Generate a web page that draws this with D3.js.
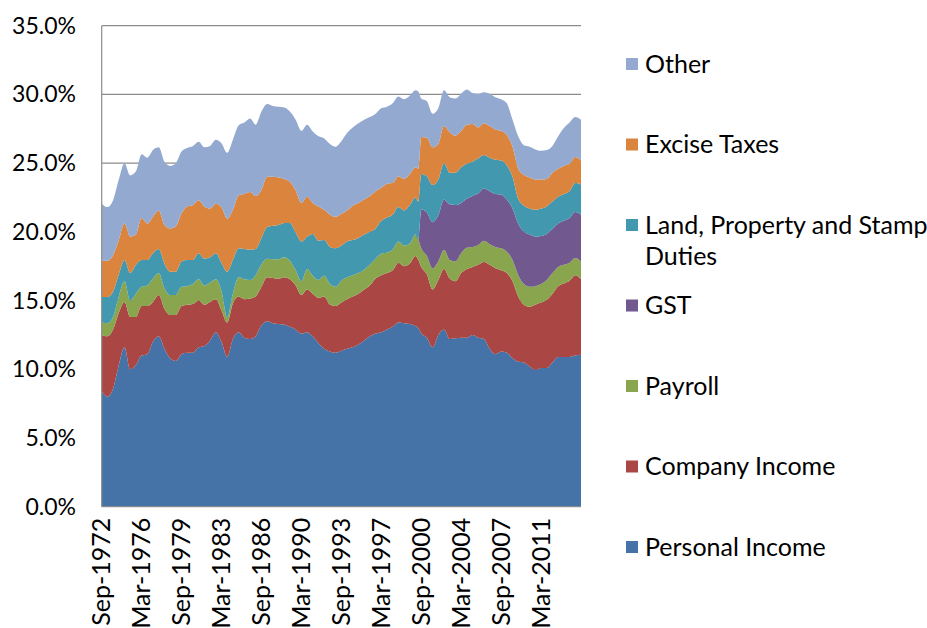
<!DOCTYPE html>
<html>
<head>
<meta charset="utf-8">
<script src="https://cdn.jsdelivr.net/npm/d3@7"></script>
<style>
  body { margin: 0; background: #fff; }
  svg text { font-family: Lato, "Open Sans", sans-serif; fill: #000; }
</style>
</head>
<body>
<script>
// Tax revenue by type, % of GDP, half-yearly points (plus Jun-2000 for the GST start)

const quarters = [
  "Sep-1972", "Mar-1973", "Sep-1973", "Mar-1974", "Sep-1974", "Mar-1975", "Sep-1975", "Mar-1976", "Sep-1976", "Mar-1977",
  "Sep-1977", "Mar-1978", "Sep-1978", "Mar-1979", "Sep-1979", "Mar-1980", "Sep-1980", "Mar-1981", "Sep-1981", "Mar-1982",
  "Sep-1982", "Mar-1983", "Sep-1983", "Mar-1984", "Sep-1984", "Mar-1985", "Sep-1985", "Mar-1986", "Sep-1986", "Mar-1987",
  "Sep-1987", "Mar-1988", "Sep-1988", "Mar-1989", "Sep-1989", "Mar-1990", "Sep-1990", "Mar-1991", "Sep-1991", "Mar-1992",
  "Sep-1992", "Mar-1993", "Sep-1993", "Mar-1994", "Sep-1994", "Mar-1995", "Sep-1995", "Mar-1996", "Sep-1996", "Mar-1997",
  "Sep-1997", "Mar-1998", "Sep-1998", "Mar-1999", "Sep-1999", "Mar-2000",
  "Jun-2000",
  "Sep-2000", "Mar-2001", "Sep-2001", "Mar-2002", "Sep-2002", "Mar-2003", "Sep-2003", "Mar-2004", "Sep-2004", "Mar-2005",
  "Sep-2005", "Mar-2006", "Sep-2006", "Mar-2007", "Sep-2007", "Mar-2008", "Sep-2008", "Mar-2009", "Sep-2009", "Mar-2010",
  "Sep-2010", "Mar-2011", "Sep-2011", "Mar-2012", "Sep-2012", "Mar-2013", "Sep-2013", "Mar-2014", "Sep-2014"
];

const personalIncome = [
  8.4, 8.0, 8.6, 10.3, 11.6, 10.0, 10.3, 11.0, 11.1, 12.0,
  12.4, 11.5, 10.8, 10.6, 11.1, 11.2, 11.2, 11.6, 11.7, 12.1,
  12.7, 12.0, 10.9, 12.2, 12.7, 12.3, 12.2, 12.4, 13.2, 13.5,
  13.35, 13.3, 13.25, 13.1, 12.9, 12.6, 12.7, 12.4, 11.9, 11.5,
  11.3, 11.2, 11.35, 11.5, 11.6, 11.8, 12.1, 12.4, 12.6, 12.7,
  12.9, 13.1, 13.4, 13.35, 13.3, 13.15,
  13.0,
  12.6, 12.3, 11.6, 12.5, 12.9, 12.2, 12.25, 12.3, 12.3, 12.5,
  12.3, 12.2, 11.5, 11.1, 11.3, 11.2, 10.8, 10.55, 10.5, 10.2,
  9.95, 10.1, 10.1, 10.5, 10.9, 10.9, 10.9, 11.0, 11.05
];

const companyIncome = [
  4.1, 4.4, 4.3, 3.8, 3.3, 3.8, 3.5, 3.6, 3.5, 2.9,
  3.0, 2.9, 3.15, 3.35, 3.5, 3.5, 3.55, 3.4, 3.0, 2.8,
  2.4, 2.3, 2.5, 2.6, 2.6, 2.8, 2.95, 2.9, 2.8, 3.2,
  3.3, 3.3, 3.45, 3.45, 3.2, 2.8, 3.1, 3.1, 3.3, 3.8,
  3.4, 3.4, 3.5, 3.6, 3.7, 3.7, 3.7, 3.7, 4.0, 4.15,
  4.1, 4.1, 4.35, 4.15, 4.4, 5.1,
  4.95,
  4.85, 4.6, 4.2, 4.0, 4.4, 4.4, 4.15, 4.7, 5.0, 4.95,
  5.3, 5.6, 6.1, 6.25, 5.9, 5.8, 5.6, 4.75, 4.2, 4.35,
  4.75, 4.75, 4.95, 5.0, 5.15, 5.35, 5.55, 5.85, 5.5
];

const payroll = [
  0.9, 0.95, 0.9, 1.2, 1.5, 1.2, 1.7, 1.4, 1.5, 1.7,
  1.6, 1.5, 1.45, 1.45, 1.4, 1.35, 1.45, 1.55, 1.4, 1.4,
  1.45, 1.4, 0.4, 0.7, 1.4, 1.45, 1.35, 1.55, 1.65, 1.35,
  1.35, 1.4, 1.45, 1.35, 1.1, 1.0, 1.5, 1.3, 1.3, 1.5,
  1.5, 1.4, 1.6, 1.6, 1.55, 1.5, 1.45, 1.5, 1.45, 1.55,
  1.5, 1.5, 1.55, 1.5, 1.45, 1.55,
  1.5,
  1.35, 1.35, 1.55, 1.35, 1.4, 1.35, 1.45, 1.45, 1.55, 1.45,
  1.45, 1.55, 1.5, 1.55, 1.6, 1.55, 1.55, 1.55, 1.5, 1.45,
  1.35, 1.35, 1.45, 1.5, 1.4, 1.35, 1.3, 1.25, 1.3
];

const gst = [
  0, 0, 0, 0, 0, 0, 0, 0, 0, 0,
  0, 0, 0, 0, 0, 0, 0, 0, 0, 0,
  0, 0, 0, 0, 0, 0, 0, 0, 0, 0,
  0, 0, 0, 0, 0, 0, 0, 0, 0, 0,
  0, 0, 0, 0, 0, 0, 0, 0, 0, 0,
  0, 0, 0, 0, 0, 0,
  0,
  2.85, 3.15, 3.35, 3.35, 3.65, 4.05, 4.1, 3.65, 3.55, 3.7,
  3.75, 3.8, 3.85, 3.85, 3.9, 3.8, 3.75, 3.75, 3.8, 3.8,
  3.6, 3.5, 3.35, 3.2, 3.15, 3.2, 3.25, 3.35, 3.4
];

const landPropertyStamp = [
  1.85, 1.9, 1.85, 1.6, 1.55, 2.0, 2.1, 1.95, 1.85, 1.85,
  1.75, 1.8, 1.7, 1.7, 1.85, 1.9, 1.75, 1.9, 1.95, 1.85,
  1.9, 2.05, 3.3, 2.45, 2.1, 2.2, 2.2, 1.9, 1.9, 2.3,
  2.45, 2.5, 2.5, 2.75, 2.75, 2.9, 2.35, 3.05, 2.85, 2.6,
  2.7, 2.8, 2.55, 2.6, 2.55, 2.55, 2.55, 2.4, 2.2, 2.4,
  2.55, 2.55, 2.5, 2.55, 2.8, 2.7,
  2.75,
  2.55, 2.65, 2.7, 2.6, 2.65, 2.3, 2.35, 2.6, 2.55, 2.5,
  2.55, 2.45, 2.45, 2.5, 2.5, 2.5, 2.3, 1.8, 1.9, 1.9,
  1.95, 2.0, 2.0, 2.0, 1.95, 1.95, 1.95, 2.1, 2.2
];

const exciseTaxes = [
  2.65, 2.65, 2.65, 2.5, 2.65, 2.65, 2.2, 3.05, 2.65, 2.65,
  2.8, 2.8, 3.15, 3.3, 3.5, 3.9, 4.0, 3.85, 3.8, 3.55,
  3.6, 4.05, 3.85, 3.65, 3.85, 4.0, 4.2, 3.85, 3.5, 3.65,
  3.55, 3.45, 3.2, 3.0, 3.05, 2.8, 2.9, 2.25, 2.5, 2.2,
  2.35, 2.3, 2.3, 2.25, 2.5, 2.55, 2.55, 2.6, 2.7, 2.4,
  2.45, 2.3, 2.25, 2.3, 2.25, 2.2,
  2.4,
  2.7, 2.8, 2.75, 2.6, 2.7, 2.95, 2.7, 2.65, 2.85, 2.75,
  2.25, 2.3, 2.3, 2.2, 2.15, 2.2, 2.2, 2.2, 2.25, 2.25,
  2.2, 2.1, 2.0, 2.1, 2.05, 2.05, 2.0, 1.9, 1.75
];

const other = [
  4.15, 3.9, 4.0, 4.4, 4.4, 4.45, 4.6, 4.65, 4.8, 4.85,
  4.6, 4.6, 4.55, 4.6, 4.5, 4.25, 4.3, 4.25, 4.3, 4.55,
  4.65, 4.65, 4.8, 5.1, 5.1, 5.2, 5.35, 5.2, 5.7, 5.3,
  5.15, 5.15, 5.2, 5.1, 5.15, 5.25, 5.25, 5.2, 5.1, 5.2,
  5.15, 5.1, 5.3, 5.65, 5.7, 5.8, 5.8, 5.75, 5.65, 5.8,
  5.6, 5.8, 5.8, 5.8, 5.7, 5.6,
  5.6,
  2.8, 2.65, 2.45, 2.6, 2.6, 2.55, 2.7, 2.7, 2.55, 2.25,
  2.45, 2.25, 2.35, 2.35, 2.3, 2.3, 1.95, 2.35, 2.15, 2.25,
  2.2, 2.1, 2.1, 1.95, 2.35, 2.75, 3.0, 2.9, 2.95
];

// stacking order bottom-up; legend lists them top-down
const seriesNames = ["Personal Income", "Company Income", "Payroll", "GST",
  "Land, Property and Stamp Duties", "Excise Taxes", "Other"];
const seriesValues = [personalIncome, companyIncome, payroll, gst,
  landPropertyStamp, exciseTaxes, other];
const colors = ["#4572A7", "#AA4643", "#89A54E", "#71588F", "#4198AF", "#DB843D", "#93A9CF"];

const yTicks = [0, 5, 10, 15, 20, 25, 30, 35];
const xTickLabels = ["Sep-1972", "Mar-1976", "Sep-1979", "Mar-1983", "Sep-1986", "Mar-1990",
  "Sep-1993", "Mar-1997", "Sep-2000", "Mar-2004", "Sep-2007", "Mar-2011"];

const width = 927, height = 628;
const plot = { left: 101.7, right: 581, top: 25.7, bottom: 506.7 };

const parse = d3.timeParse("%b-%Y");

const rows = quarters.map((q, i) => {
  const r = { date: parse(q) };
  seriesNames.forEach((name, j) => { r[name] = seriesValues[j][i]; });
  return r;
});

const x = d3.scaleTime()
  .domain(d3.extent(rows, d => d.date))
  .range([plot.left, plot.right]);

const y = d3.scaleLinear()
  .domain([0, 35])
  .range([plot.bottom, plot.top]);

const stack = d3.stack().keys(seriesNames);
const layers = stack(rows);

const svg = d3.select("body")
  .append("svg")
  .attr("width", width)
  .attr("height", height);

// Gridlines (behind the areas)
svg.append("g")
  .selectAll("line")
  .data(yTicks.slice(1))
  .join("line")
  .attr("x1", plot.left)
  .attr("x2", plot.right)
  .attr("y1", d => y(d))
  .attr("y2", d => y(d))
  .attr("stroke", "#8c8c8c")
  .attr("stroke-width", 1.2);

const area = d3.area()
  .curve(d3.curveMonotoneX)
  .x(d => x(d.data.date))
  .y0(d => y(d[0]))
  .y1(d => y(d[1]));

svg.append("g")
  .selectAll("path")
  .data(layers)
  .join("path")
  .attr("fill", (d, i) => colors[i])
  .attr("d", area);

// Axis lines
svg.append("line")
  .attr("x1", plot.left).attr("x2", plot.left)
  .attr("y1", plot.top).attr("y2", plot.bottom)
  .attr("stroke", "#8c8c8c").attr("stroke-width", 1.2);
svg.append("line")
  .attr("x1", plot.left).attr("x2", plot.right)
  .attr("y1", plot.bottom).attr("y2", plot.bottom)
  .attr("stroke", "#8c8c8c").attr("stroke-width", 1.2);

// Y tick labels
svg.append("g")
  .selectAll("text")
  .data(yTicks)
  .join("text")
  .attr("x", 76)
  .attr("y", d => y(d))
  .attr("dy", "0.35em")
  .attr("text-anchor", "end")
  .style("font-size", "23px")
  .text(d => d.toFixed(1) + "%");

// X tick labels, rotated
svg.append("g")
  .selectAll("text")
  .data(xTickLabels)
  .join("text")
  .attr("transform", d => `translate(${x(parse(d))},${plot.bottom + 11}) rotate(-90)`)
  .attr("dy", "0.35em")
  .attr("text-anchor", "end")
  .style("font-size", "25px")
  .text(d => d);

// Legend
const legendItems = [
  { name: "Other", lines: ["Other"], color: colors[6] },
  { name: "Excise Taxes", lines: ["Excise Taxes"], color: colors[5] },
  { name: "Land", lines: ["Land, Property and Stamp", "Duties"], color: colors[4] },
  { name: "GST", lines: ["GST"], color: colors[3] },
  { name: "Payroll", lines: ["Payroll"], color: colors[2] },
  { name: "Company Income", lines: ["Company Income"], color: colors[1] },
  { name: "Personal Income", lines: ["Personal Income"], color: colors[0] }
];

const legend = svg.append("g");
const item = legend.selectAll("g")
  .data(legendItems)
  .join("g")
  .attr("transform", (d, i) => `translate(626,${64 + i * 80.5})`);

item.append("rect")
  .attr("x", 0)
  .attr("y", -6)
  .attr("width", 12)
  .attr("height", 12)
  .attr("fill", d => d.color);

item.selectAll("text")
  .data(d => d.lines)
  .join("text")
  .attr("x", 19)
  .attr("y", (d, i) => i * 31)
  .attr("dy", "0.35em")
  .style("font-size", "25px")
  .text(d => d);
</script>
</body>
</html>
